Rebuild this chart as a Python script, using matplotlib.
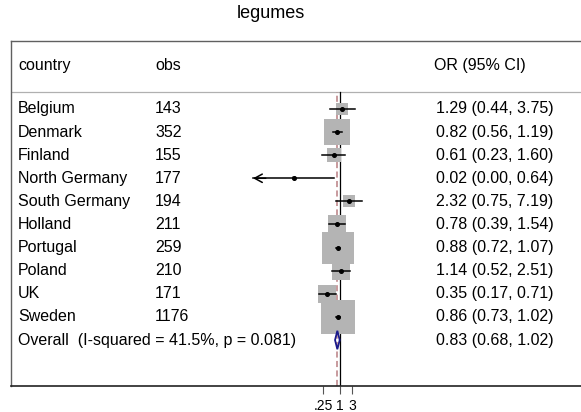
import numpy as np
import matplotlib
matplotlib.use("Agg")
import matplotlib.pyplot as plt
from matplotlib.transforms import blended_transform_factory
from matplotlib.patches import Polygon

plt.rcParams['font.family'] = ['Liberation Sans', 'DejaVu Sans']

title = "legumes"
countries = ["Belgium", "Denmark", "Finland", "North Germany", "South Germany",
             "Holland", "Portugal", "Poland", "UK", "Sweden"]
obs = [143, 352, 155, 177, 194, 211, 259, 210, 171, 1176]
or_est = [1.29, 0.82, 0.61, 0.02, 2.32, 0.78, 0.88, 1.14, 0.35, 0.86]
ci_lo = [0.44, 0.56, 0.23, 0.00, 0.75, 0.39, 0.72, 0.52, 0.17, 0.73]
ci_hi = [3.75, 1.19, 1.60, 0.64, 7.19, 1.54, 1.07, 2.51, 0.71, 1.02]
weights = [3.7, 16.0, 4.6, 0.4, 3.5, 7.9, 23.8, 6.8, 7.3, 26.0]

overall_or = 0.83
overall_lo = 0.68
overall_hi = 1.02
overall_label = "Overall  (I-squared = 41.5%, p = 0.081)"

xticks = [0.25, 1, 3]
xtick_labels = [".25", "1", "3"]

# lower display bound of the effect axis; CIs beyond it get an arrow
x_clip = 0.00058

W, H, DPI = 581, 412, 100
fig = plt.figure(figsize=(W / DPI, H / DPI), dpi=DPI)
ax = fig.add_axes([11 / W, (H - 386) / H, 570 / W, 345 / H])

px_per_ln = 11.6
ln_left = (11 - 339.5) / px_per_ln
ln_right = (581 - 339.5) / px_per_ln
ax.set_xscale('log')
ax.set_xlim(np.exp(ln_left), np.exp(ln_right))

n = len(countries)
ys = -np.arange(n)
y_overall = -n
y_header = 1.9
y_rule = 0.74
ax.set_ylim(-11.99, 2.94)

# reference lines: null effect and pooled estimate
ax.plot([1, 1], [-11.99, y_rule], color='black', lw=0.9, zorder=2)
ax.plot([overall_or, overall_or], [-11.99, y_rule], color='#b97f82', lw=1.1,
        dashes=(4, 2.2), zorder=2)
ax.axhline(y_rule, color='#b0b0b0', lw=0.9, zorder=1)

# weighted boxes
k_px = 34 / np.sqrt(max(weights))
for y, est, w in zip(ys, or_est, weights):
    side_pt = k_px * np.sqrt(w) * 72 / DPI
    ax.plot([est], [y], marker='s', markersize=side_pt, color='#b4b4b4',
            markeredgewidth=0, linestyle='none', zorder=3)

# confidence intervals and point estimates
for y, est, lo, hi in zip(ys, or_est, ci_lo, ci_hi):
    lo_draw = max(lo, x_clip)
    ax.plot([lo_draw, hi], [y, y], color='black', lw=1.1, zorder=4)
    if lo < x_clip:
        ax.annotate('', xy=(x_clip, y), xytext=(x_clip * 3.0, y),
                    arrowprops=dict(arrowstyle='->,head_length=0.55,head_width=0.3',
                                    color='black', lw=1.1, shrinkA=0, shrinkB=0),
                    zorder=4)
    ax.plot([est], [y], marker='o', markersize=2.6, color='black',
            linestyle='none', zorder=5)

# pooled estimate diamond
dh = 0.40
diamond = Polygon([[overall_lo, y_overall], [overall_or, y_overall + dh],
                   [overall_hi, y_overall], [overall_or, y_overall - dh]],
                  closed=True, facecolor='none', edgecolor='#1a1a8c', lw=1.3,
                  zorder=6)
ax.add_patch(diamond)

# text columns
tr = blended_transform_factory(ax.transAxes, ax.transData)
fs = 11.5
x_country, x_obs, x_or = 0.0123, 0.2526, 0.7425
ax.text(x_country, y_header, "country", transform=tr, fontsize=fs, va='center')
ax.text(x_obs, y_header, "obs", transform=tr, fontsize=fs, va='center')
ax.text(x_or, y_header, "OR (95% CI)", transform=tr, fontsize=fs, va='center')
for y, c, o, est, lo, hi in zip(ys, countries, obs, or_est, ci_lo, ci_hi):
    ax.text(x_country, y, c, transform=tr, fontsize=fs, va='center')
    ax.text(x_obs, y, str(o), transform=tr, fontsize=fs, va='center')
    ax.text(x_or + 0.0035, y, f"{est:.2f} ({lo:.2f}, {hi:.2f})", transform=tr,
            fontsize=fs, va='center')
ax.text(x_country, y_overall, overall_label, transform=tr, fontsize=fs, va='center')
ax.text(x_or + 0.0035, y_overall,
        f"{overall_or:.2f} ({overall_lo:.2f}, {overall_hi:.2f})",
        transform=tr, fontsize=fs, va='center')

# frame and axis
ax.set_yticks([])
ax.set_xticks(xticks)
ax.set_xticklabels(xtick_labels)
ax.xaxis.set_minor_locator(matplotlib.ticker.NullLocator())
ax.tick_params(axis='x', direction='out', length=6, width=0.8, color='#555555',
               labelsize=10, pad=3)
ax.spines['right'].set_visible(False)
ax.spines['top'].set_color('#606060')
ax.spines['left'].set_color('#606060')
ax.spines['bottom'].set_color('#222222')
for s in ('top', 'left'):
    ax.spines[s].set_linewidth(1.0)
ax.spines['bottom'].set_linewidth(1.2)

fig.text(271 / W, 1 - 13 / H, title, ha='center', va='center', fontsize=13)

fig.savefig("out.png", dpi=DPI, facecolor='white')
